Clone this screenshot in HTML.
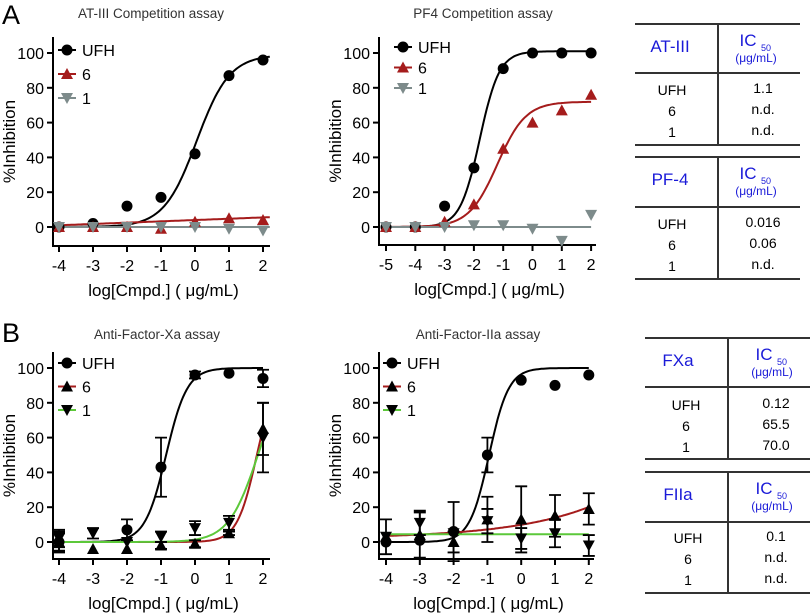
<!DOCTYPE html>
<html><head><meta charset="utf-8"><style>
body{margin:0;background:#fff;font-family:"Liberation Sans",sans-serif}
svg{display:block}
</style></head><body>
<svg id="fig" width="810" height="614" viewBox="0 0 810 614" xmlns="http://www.w3.org/2000/svg" font-family="Liberation Sans, sans-serif">
<text x="2" y="24" font-size="27">A</text>
<text x="2" y="342" font-size="27">B</text>
<g stroke="#333" stroke-width="2">
<line x1="635" y1="24" x2="800" y2="24"/><line x1="635" y1="73" x2="800" y2="73"/><line x1="635" y1="145" x2="800" y2="145"/><line x1="718" y1="24" x2="718" y2="145"/>
<line x1="635" y1="157" x2="800" y2="157"/><line x1="635" y1="207" x2="800" y2="207"/><line x1="635" y1="279" x2="800" y2="279"/><line x1="718" y1="157" x2="718" y2="279"/>
</g>
<g stroke="#333" stroke-width="2">
<line x1="645" y1="338" x2="810" y2="338"/><line x1="645" y1="387" x2="810" y2="387"/><line x1="645" y1="459" x2="810" y2="459"/><line x1="728" y1="338" x2="728" y2="459"/>
<line x1="645" y1="472" x2="810" y2="472"/><line x1="645" y1="522" x2="810" y2="522"/><line x1="645" y1="593" x2="810" y2="593"/><line x1="728" y1="472" x2="728" y2="593"/>
</g>
<g id="tables" font-size="14" text-anchor="middle"></g>
</svg>
<script>
const NS='http://www.w3.org/2000/svg';
const fig=document.getElementById('fig');
function mk(tag,attrs,parent,txt){const e=document.createElementNS(NS,tag);for(const k in attrs)e.setAttribute(k,attrs[k]);if(txt!==undefined)e.textContent=txt;(parent||fig).appendChild(e);return e;}

// ---- data ----
const xA1=[-4,-3,-2,-1,0,1,2];
const a1UFH=[0,2,12,17,42,87,96];
const a1S6=[0,0,0,-1,3,5,4];
const a1S1=[0,0,0,0,0,-1,-2];
const xA2=[-5,-4,-3,-2,-1,0,1,2];
const a2UFH=[0,0,12,34,91,100,100,100];
const a2S6=[0,0,3,13,45,60,67,76];
const a2S1=[0,0,0,1,1,-1,-8,7];
const xB=[-4,-3,-2,-1,0,1,2];
const b1UFH=[0,null,7,43,96,97,94];
const b1UFHerr=[6,0,6,17,2,0,5];
const b1S6=[0,-4,-4,-2,-1,5,65];
const b1S6err=[5,0,0,2,2,1,15];
const b1S1=[2,5,0,3,8,11,60];
const b1S1err=[5,3,0,3,4,4,20];
const b2UFH=[0,1,6,50,93,90,96];
const b2UFHerr=[0,0,17,10,0,0,0];
const b2S6=[3,4,0,13,13,15,19];
const b2S6err=[10,13,6,13,19,12,9];
const b2S1=[3,11,5,12,2,5,-2];
const b2S1err=[0,7,0,7,6,8,6];
// fit params: [bottom, top, logEC50, hill]
const fitA1UFH=[0,99,0.05,0.9];
const fitA2UFH=[0,101,-1.8,1.3];
const fitA2S6=[0,72,-1.2,0.9];
const fitB1UFH=[0,100,-0.85,1.4];
const fitB1S6=[0,100,1.82,1.5];
const fitB1S1=[0,100,1.85,1.0];
const fitB2UFH=[0,100,-0.95,1.5];
// linear fits [intercept at 0, slope]; exp fit [c,a,b]
const linA1S6=[4.0,0.75];
const expB2S6=[2,7.9,0.18];
const flatLevels=[0,0,4.5];
const yTicks=[0,20,40,60,80,100];

function sig(p){return x=>p[0]+(p[1]-p[0])/(1+Math.pow(10,(p[2]-x)*p[3]));}

function chart(c){
  const g=mk('g',{});
  
  
  const X=v=>c.x0+(v-c.xmin)*c.xs, Y=v=>c.y0-v*c.ys;
  const t=mk('text',{x:c.tx,y:c.ty,'font-size':13.5,fill:'#333','text-anchor':'middle'},g,c.title);
  
  // axes
  const ax=mk('path',{d:`M${c.ax} ${c.top}V${c.bot}H${c.right}`,stroke:'#000','stroke-width':2,fill:'none'},g);
  
  yTicks.forEach(v=>{mk('line',{x1:c.ax-6,x2:c.ax,y1:Y(v),y2:Y(v),stroke:'#000','stroke-width':2},g);
    const l=mk('text',{x:c.ax-9,y:Y(v)+6,'font-size':16,'text-anchor':'end'},g,String(v));
    });
  c.xt.forEach(v=>{mk('line',{x1:X(v),x2:X(v),y1:c.bot,y2:c.bot+6,stroke:'#000','stroke-width':2},g);
    const l=mk('text',{x:X(v),y:c.bot+25,'font-size':16,'text-anchor':'middle'},g,String(v));
    });
  const xl=mk('text',{x:(c.ax+c.right)/2+2,y:c.bot+50,'font-size':17,'text-anchor':'middle'},g,'log[Cmpd.] ( μg/mL)');
  
  const yl=mk('text',{transform:`translate(${c.ax-38},${(c.top+c.bot)/2}) rotate(-90)`,'font-size':17,'text-anchor':'middle'},g,'%Inhibition');
  
  // curves
  c.series.forEach(s=>{
    let d='';const n=120;
    for(let i=0;i<=n;i++){const xv=c.cx0+(c.cx1-c.cx0)*i/n;d+=(i?'L':'M')+X(xv).toFixed(1)+' '+Y(s.f(xv)).toFixed(1);}
    const p=mk('path',{d,stroke:s.line,'stroke-width':2,fill:'none'},g);
    
  });
  // points
  c.series.forEach(s=>{
    s.xs.forEach((xv,i)=>{const v=s.ys[i];if(v===null)return;
      const px=X(xv),py=Y(v);
      if(s.err&&s.err[i]>0){const e=s.err[i];
        const eb=mk('path',{d:`M${px} ${Y(v+e)}V${Y(v-e)}M${px-6} ${Y(v+e)}H${px+6}M${px-6} ${Y(v-e)}H${px+6}`,stroke:'#000','stroke-width':1.8,fill:'none'},g);
        }
      const m=marker(s.shape,px,py,s.mc,g);
      
    });
  });
  // legend
  c.series.forEach((s,i)=>{const ly=c.ly+i*c.lg;
    const lg=mk('g',{},g);
    mk('line',{x1:c.lx-9,x2:c.lx+9,y1:ly,y2:ly,stroke:s.line,'stroke-width':2},lg);
    marker(s.shape,c.lx,ly,s.mc,lg);
    mk('text',{x:c.lx+15,y:ly+6,'font-size':16},lg,s.label);
  });
}
function marker(shape,x,y,col,g){
  if(shape==='c')return mk('circle',{cx:x,cy:y,r:5.5,fill:col},g);
  if(shape==='u')return mk('path',{d:`M${x} ${y-6}L${x+6} ${y+5}L${x-6} ${y+5}Z`,fill:col},g);
  return mk('path',{d:`M${x} ${y+6}L${x+6} ${y-5}L${x-6} ${y-5}Z`,fill:col},g);
}
const RED='#a51c1c',GREY='#7d8b8b',GREEN='#5cc83a';
const lin=p=>x=>p[0]+p[1]*x, flat=v=>x=>v, ex=p=>x=>p[0]+p[1]*Math.pow(10,p[2]*x);

chart({name:'chart-at3',title:'AT-III Competition assay',tx:151,ty:18,ax:53,top:37,bot:246,right:270,x0:59,xmin:-4,xs:34,y0:227,ys:1.74,xt:xA1,cx0:-4,cx1:2.2,lx:67,ly:50,lg:24,
 series:[{key:'ufh',label:'UFH',xs:xA1,ys:a1UFH,shape:'c',mc:'#000',line:'#000',f:sig(fitA1UFH)},
 {key:'6',label:'6',xs:xA1,ys:a1S6,shape:'u',mc:RED,line:RED,f:lin(linA1S6)},
 {key:'1',label:'1',xs:xA1,ys:a1S1,shape:'d',mc:GREY,line:GREY,f:flat(flatLevels[0])}]});
chart({name:'chart-pf4',title:'PF4 Competition assay',tx:483,ty:18,ax:379,top:37,bot:245,right:596,x0:386,xmin:-5,xs:29.3,y0:227,ys:1.74,xt:xA2,cx0:-5,cx1:2,lx:403,ly:47,lg:20.5,
 series:[{key:'ufh',label:'UFH',xs:xA2,ys:a2UFH,shape:'c',mc:'#000',line:'#000',f:sig(fitA2UFH)},
 {key:'6',label:'6',xs:xA2,ys:a2S6,shape:'u',mc:RED,line:RED,f:sig(fitA2S6)},
 {key:'1',label:'1',xs:xA2,ys:a2S1,shape:'d',mc:GREY,line:GREY,f:flat(flatLevels[1])}]});
chart({name:'chart-fxa',title:'Anti-Factor-Xa assay',tx:157,ty:339,ax:53,top:352,bot:559,right:270,x0:59,xmin:-4,xs:34,y0:542,ys:1.74,xt:xB,cx0:-4,cx1:2,lx:67,ly:363,lg:23.5,
 series:[{key:'ufh',label:'UFH',xs:xB,ys:b1UFH,err:b1UFHerr,shape:'c',mc:'#000',line:'#000',f:sig(fitB1UFH)},
 {key:'6',label:'6',xs:xB,ys:b1S6,err:b1S6err,shape:'u',mc:'#000',line:RED,f:sig(fitB1S6)},
 {key:'1',label:'1',xs:xB,ys:b1S1,err:b1S1err,shape:'d',mc:'#000',line:GREEN,f:sig(fitB1S1)}]});
chart({name:'chart-f2a',title:'Anti-Factor-IIa assay',tx:478,ty:339,ax:379,top:352,bot:559,right:594,x0:386,xmin:-4,xs:33.8,y0:542,ys:1.74,xt:xB,cx0:-4,cx1:2,lx:392,ly:363,lg:23.5,
 series:[{key:'ufh',label:'UFH',xs:xB,ys:b2UFH,err:b2UFHerr,shape:'c',mc:'#000',line:'#000',f:sig(fitB2UFH)},
 {key:'6',label:'6',xs:xB,ys:b2S6,err:b2S6err,shape:'u',mc:'#000',line:RED,f:ex(expB2S6)},
 {key:'1',label:'1',xs:xB,ys:b2S1,err:b2S1err,shape:'d',mc:'#000',line:GREEN,f:flat(flatLevels[2])}]});

// tables
const tables=[
 {name:'table-at3-text',h:'AT-III',hx:670,icx:752,top:24,rows:[['UFH','1.1'],['6','n.d.'],['1','n.d.']],rx:[672,763],ry:90},
 {name:'table-pf4-text',h:'PF-4',hx:670,icx:752,top:157,rows:[['UFH','0.016'],['6','0.06'],['1','n.d.']],rx:[672,763],ry:224},
 {name:'table-fxa-text',h:'FXa',hx:678,icx:768,top:338,rows:[['UFH','0.12'],['6','65.5'],['1','70.0']],rx:[686,776],ry:405},
 {name:'table-f2a-text',h:'FIIa',hx:678,icx:768,top:472,rows:[['UFH','0.1'],['6','n.d.'],['1','n.d.']],rx:[688,776],ry:538}];
const tg=document.getElementById('tables');
tables.forEach(t=>{const g=mk('g',{},tg);
 mk('text',{x:t.hx,y:t.top+28,'font-size':17,fill:'#1a1ad8'},g,t.h);
 mk('text',{x:t.icx-4,y:t.top+22,'font-size':17,fill:'#1a1ad8'},g,'IC');
 mk('text',{x:t.icx+14,y:t.top+27,'font-size':9,fill:'#1a1ad8'},g,'50');
 mk('text',{x:t.icx+4,y:t.top+38,'font-size':12,fill:'#1a1ad8'},g,'(μg/mL)');
 t.rows.forEach((r,i)=>{mk('text',{x:t.rx[0],y:t.ry+i*21+5},g,r[0]);mk('text',{x:t.rx[1],y:t.ry+i*21+3},g,r[1]);});
});
</script>
</body></html>
